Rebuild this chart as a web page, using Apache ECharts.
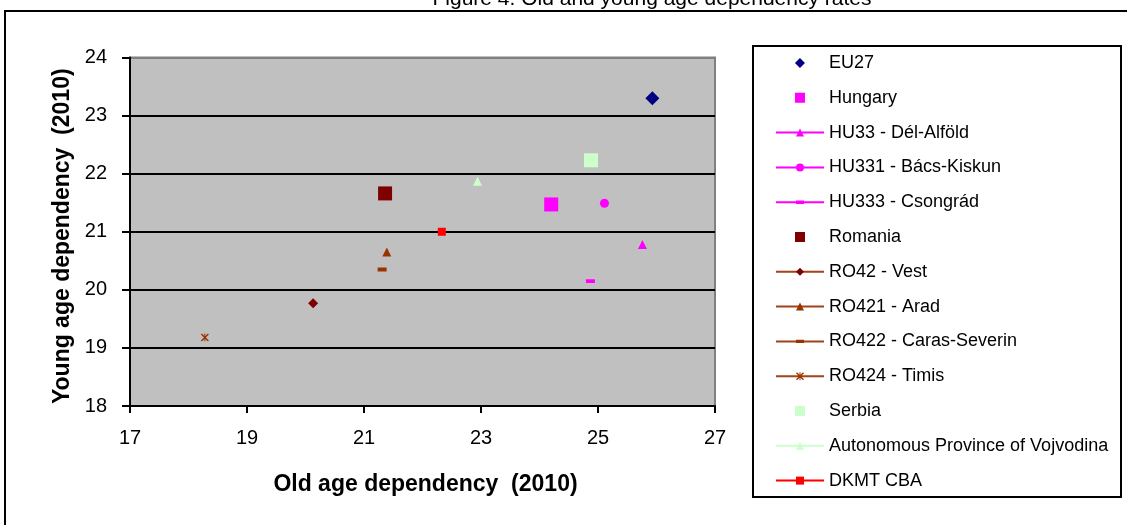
<!DOCTYPE html>
<html>
<head>
<meta charset="utf-8">
<script src="https://cdn.jsdelivr.net/npm/echarts@6/dist/echarts.min.js"></script>
<style>
  html, body { margin: 0; padding: 0; background: #ffffff; }
  #chart { width: 1127px; height: 525px; }
</style>
</head>
<body>
<div id="chart"></div>
<script>
// Old age dependency (x) and young age dependency (y), 2010
const seriesNames = [
  'EU27', 'Hungary', 'HU33 - Dél-Alföld', 'HU331 - Bács-Kiskun', 'HU333 - Csongrád',
  'Romania', 'RO42 - Vest', 'RO421 - Arad', 'RO422 - Caras-Severin', 'RO424 - Timis',
  'Serbia', 'Autonomous Province of Vojvodina', 'DKMT CBA'
];
const oldAgeDependency = [25.93, 24.20, 25.76, 25.11, 24.87, 21.36, 20.13, 21.39, 21.31, 18.28, 24.88, 22.94, 22.33];
const youngAgeDependency = [23.30, 21.47, 20.78, 21.49, 20.15, 21.66, 19.77, 20.65, 20.35, 19.18, 22.23, 21.87, 21.00];
const xTicks = { min: 17, max: 27, step: 2 };
const yTicks = { min: 18, max: 24, step: 1 };

// marker shapes; the invisible corner points fix each path's bounding box
const DASH = 'path://M0,0L0.01,0M9,9L9.01,9M0,2.6h9v3.8h-9z';
const ASTERISK = 'path://M0,1.2L1.2,0L5,3.8L8.8,0L10,1.2L6.2,5L10,8.8L8.8,10L5,6.2L1.2,10L0,8.8L3.8,5Z' +
  'M4.4,0h1.2v10h-1.2z';
// legend icons for marker-only entries: a 10px symbol centred in a 48x10 box
const LEGEND_DIAMOND = 'path://M0,0L0.01,0M48,10L48.01,10M24,0L29,5L24,10L19,5Z';
const LEGEND_SQUARE = 'path://M0,0L0.01,0M48,10L48.01,10M19,0h10v10h-10z';

const styles = [
  { kind: 'scatter', symbol: 'diamond', size: 14, color: '#000080', icon: LEGEND_DIAMOND },
  { kind: 'scatter', symbol: 'rect', size: 14, color: '#FF00FF', icon: LEGEND_SQUARE },
  { kind: 'line', symbol: 'triangle', size: 9, color: '#FF00FF', line: '#FF00FF' },
  { kind: 'line', symbol: 'circle', size: 9, color: '#FF00FF', line: '#FF00FF' },
  { kind: 'line', symbol: DASH, size: 9, color: '#FF00FF', line: '#FF00FF' },
  { kind: 'scatter', symbol: 'rect', size: 14, color: '#800000', icon: LEGEND_SQUARE },
  { kind: 'line', symbol: 'diamond', size: 10, color: '#800000', line: '#A0421A' },
  { kind: 'line', symbol: 'triangle', size: 9, color: '#993300', line: '#A0421A' },
  { kind: 'line', symbol: DASH, size: 9, color: '#993300', line: '#A0421A' },
  { kind: 'line', symbol: ASTERISK, size: 8, color: '#993300', line: '#A0421A' },
  { kind: 'scatter', symbol: 'rect', size: 14, color: '#CCFFCC', icon: LEGEND_SQUARE },
  { kind: 'line', symbol: 'triangle', size: 9, color: '#CCFFCC', line: '#CCFFCC' },
  { kind: 'line', symbol: 'rect', size: 8, color: '#FF0000', line: '#FF0000' }
];

const FONT = 'Liberation Sans, Arial, sans-serif';

const series = seriesNames.map((name, i) => {
  const st = styles[i];
  return {
    name: name,
    type: st.kind,
    data: [[oldAgeDependency[i], youngAgeDependency[i]]],
    symbol: st.symbol,
    symbolSize: st.size,
    itemStyle: { color: st.color, opacity: 1 },
    lineStyle: st.line ? { color: st.line, width: 2 } : undefined,
    emphasis: { disabled: true },
    silent: true,
    z: 5
  };
});

const legendData = seriesNames.map((name, i) =>
  styles[i].icon ? { name: name, icon: styles[i].icon } : { name: name });

const gridLineColors = [];
for (let v = yTicks.min; v <= yTicks.max; v += yTicks.step) {
  gridLineColors.push(v === yTicks.max ? '#808080' : '#000000');
}

const chart = echarts.init(document.getElementById('chart'), null, { renderer: 'canvas' });
chart.setOption({
  animation: false,
  backgroundColor: '#ffffff',
  textStyle: { fontFamily: FONT },
  graphic: [
    {
      type: 'rect', z: -10, silent: true,
      shape: { x: 5, y: 11, width: 1130, height: 530 },
      style: { fill: 'none', stroke: '#000000', lineWidth: 2 }
    },
    {
      type: 'rect', z: -5, silent: true,
      shape: { x: 753, y: 46, width: 368, height: 451 },
      style: { fill: '#ffffff', stroke: '#000000', lineWidth: 2 }
    },
    {
      type: 'text', silent: true,
      x: 652, y: 10,
      style: {
        text: 'Figure 4. Old and young age dependency rates',
        fill: '#000000', font: '21px ' + FONT,
        align: 'center', verticalAlign: 'bottom'
      }
    }
  ],
  grid: {
    left: 130, top: 57.5, right: 412, bottom: 119,
    show: true, backgroundColor: '#C0C0C0',
    borderColor: '#808080', borderWidth: 2
  },
  legend: {
    orient: 'vertical',
    left: 775, top: 53,
    padding: 0,
    itemWidth: 48, itemHeight: 10,
    itemGap: 14.8,
    selectedMode: false,
    textStyle: { fontFamily: FONT, fontSize: 18, color: '#000000', lineHeight: 20 },
    data: legendData
  },
  xAxis: {
    type: 'value',
    min: xTicks.min, max: xTicks.max, interval: xTicks.step,
    name: 'Old age dependency  (2010)',
    nameLocation: 'middle', nameGap: 67,
    nameTextStyle: { fontFamily: FONT, fontSize: 23, fontWeight: 'bold', color: '#000000', padding: [0, 0, 0, 6] },
    axisLine: { show: true, onZero: false, lineStyle: { color: '#000000', width: 2 } },
    axisTick: { show: true, length: 7, lineStyle: { color: '#000000', width: 2 } },
    axisLabel: { margin: 22, fontFamily: FONT, fontSize: 20, color: '#000000' },
    splitLine: { show: false }
  },
  yAxis: {
    type: 'value',
    min: yTicks.min, max: yTicks.max, interval: yTicks.step,
    name: 'Young age dependency  (2010)',
    nameLocation: 'middle', nameGap: 56,
    nameTextStyle: { fontFamily: FONT, fontSize: 23, fontWeight: 'bold', color: '#000000', padding: [0, 9, 0, 0] },
    axisLine: { show: true, onZero: false, lineStyle: { color: '#000000', width: 2 } },
    axisTick: { show: true, length: 8, lineStyle: { color: '#000000', width: 2 } },
    axisLabel: { margin: 23, fontFamily: FONT, fontSize: 20, color: '#000000' },
    splitLine: { show: true, lineStyle: { color: gridLineColors, width: 2 } }
  },
  series: series
});
</script>
</body>
</html>
